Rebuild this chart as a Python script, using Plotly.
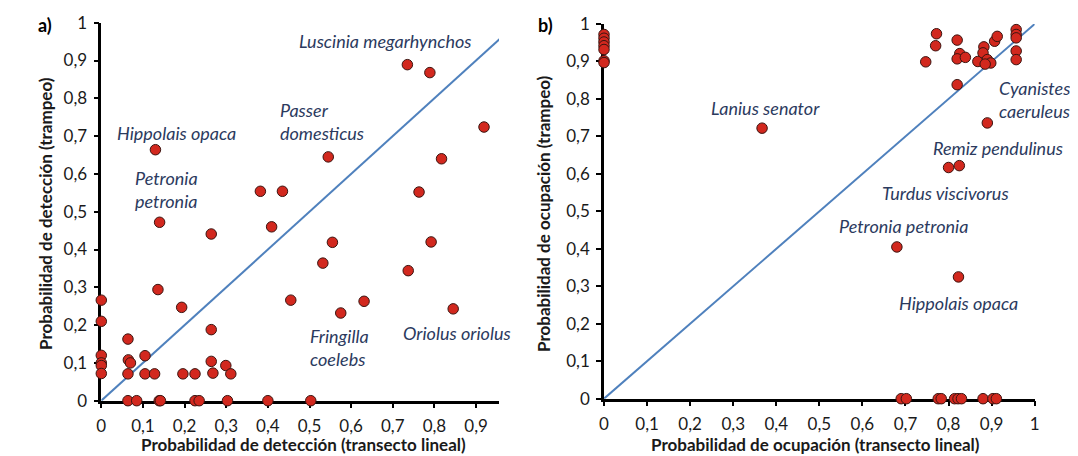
import plotly.graph_objects as go

# ---------------- data ----------------
# panel a) detection probability: transect (x) vs trapping (y)
a_x = [0, 0, 0, 0, 0, 0,
       0.064, 0.065, 0.07, 0.064, 0.105, 0.105, 0.128, 0.196, 0.225,
       0.264, 0.264, 0.268, 0.299, 0.311,
       0.064, 0.085, 0.139, 0.142, 0.225, 0.235, 0.303, 0.40, 0.503,
       0.13, 0.14, 0.264, 0.136, 0.193, 0.382, 0.435, 0.409, 0.545,
       0.555, 0.532, 0.455, 0.735, 0.789, 0.919, 0.817, 0.763, 0.792,
       0.737, 0.631, 0.575, 0.845]
a_y = [0.266, 0.21, 0.12, 0.10, 0.093, 0.072,
       0.163, 0.108, 0.10, 0.071, 0.119, 0.071, 0.071, 0.071, 0.071,
       0.188, 0.104, 0.073, 0.093, 0.071,
       0, 0, 0, 0, 0, 0, 0, 0, 0,
       0.664, 0.472, 0.441, 0.294, 0.247, 0.554, 0.554, 0.46, 0.645,
       0.419, 0.364, 0.266, 0.889, 0.868, 0.724, 0.640, 0.552, 0.42,
       0.344, 0.263, 0.232, 0.243]

# panel b) occupancy probability: transect (x) vs trapping (y)
b_x = [0, 0, 0, 0, 0, 0, 0,
       0.69, 0.702, 0.776, 0.783, 0.814, 0.822, 0.83, 0.88, 0.903, 0.911,
       0.367, 0.68, 0.823, 0.80, 0.825, 0.89,
       0.772, 0.77, 0.747, 0.82, 0.826, 0.82, 0.839, 0.868, 0.82,
       0.882, 0.88, 0.89, 0.898, 0.885, 0.907, 0.913,
       0.957, 0.957, 0.957, 0.957, 0.957]
b_y = [0.972, 0.962, 0.952, 0.942, 0.932, 0.902, 0.897,
       0, 0, 0, 0, 0, 0, 0, 0, 0, 0,
       0.722, 0.405, 0.325, 0.617, 0.622, 0.736,
       0.974, 0.942, 0.899, 0.957, 0.921, 0.907, 0.911, 0.90, 0.838,
       0.939, 0.923, 0.905, 0.896, 0.893, 0.954, 0.967,
       0.985, 0.972, 0.963, 0.928, 0.905]

# 1:1 reference lines
a_line = [0, 0.96]
b_line = [0, 1]

a_xticks = [0, 0.1, 0.2, 0.3, 0.4, 0.5, 0.6, 0.7, 0.8, 0.9]
a_xtext = ["0", "0,1", "0,2", "0,3", "0,4", "0,5", "0,6", "0,7", "0,8", "0,9"]
yticks = [0, 0.1, 0.2, 0.3, 0.4, 0.5, 0.6, 0.7, 0.8, 0.9, 1]
ytext = ["0", "0,1", "0,2", "0,3", "0,4", "0,5", "0,6", "0,7", "0,8", "0,9", "1"]

# species labels: (text, x, y, xanchor)
a_labels = [("Luscinia megarhynchos", 0.683, 0.952, "center"),
            ("Hippolais opaca", 0.18, 0.708, "center"),
            ("Passer<br>domesticus", 0.424, 0.739, "left"),
            ("Petronia<br>petronia", 0.075, 0.559, "left"),
            ("Fringilla<br>coelebs", 0.497, 0.141, "left"),
            ("Oriolus oriolus", 0.855, 0.178, "center")]
b_labels = [("Lanius senator", 0.376, 0.776, "center"),
            ("Cyanistes<br>caeruleus", 0.913, 0.798, "left"),
            ("Remiz pendulinus", 0.76, 0.67, "left"),
            ("Turdus viscivorus", 0.64, 0.55, "left"),
            ("Petronia petronia", 0.542, 0.46, "left"),
            ("Hippolais opaca", 0.68, 0.255, "left")]

# ---------------- styling ----------------
FONT = "Lato"
RED = "#d2281e"
EDGE = "#3b1410"
BLUE = "#4f81bd"
NAVY = "#2b3a5e"

fig = go.Figure()

marker = dict(size=10.5, color=RED, line=dict(color=EDGE, width=1))

fig.add_trace(go.Scatter(x=a_line, y=a_line, mode="lines",
                         line=dict(color=BLUE, width=2), xaxis="x", yaxis="y",
                         hoverinfo="skip", showlegend=False))
fig.add_trace(go.Scatter(x=a_x, y=a_y, mode="markers", marker=marker,
                         xaxis="x", yaxis="y", cliponaxis=False, showlegend=False))
fig.add_trace(go.Scatter(x=b_line, y=b_line, mode="lines",
                         line=dict(color=BLUE, width=2), xaxis="x2", yaxis="y2",
                         hoverinfo="skip", showlegend=False))
fig.add_trace(go.Scatter(x=b_x, y=b_y, mode="markers", marker=marker,
                         xaxis="x2", yaxis="y2", cliponaxis=False, showlegend=False))

W, H = 1078, 456


def px_x(p):
    return p / W


def px_y(p):
    return 1 - p / H


axis_common = dict(showgrid=False, zeroline=False, showline=True,
                   linecolor="black", linewidth=2.5, ticks="outside",
                   ticklen=5, tickwidth=2, tickcolor="black",
                   tickfont=dict(family=FONT, size=17, color="#1a1a1a"),
                   layer="below traces", fixedrange=True, automargin=False)

fig.update_layout(
    width=W, height=H,
    margin=dict(l=0, r=0, t=0, b=0),
    paper_bgcolor="white", plot_bgcolor="white",
    showlegend=False,
    xaxis=dict(domain=[px_x(93.3), px_x(491)], range=[0, 0.955],
               tickvals=a_xticks, ticktext=a_xtext, anchor="y",
               ticklabelstandoff=3, **axis_common),
    yaxis=dict(domain=[px_y(392.7), px_y(14.7)], range=[0, 1],
               tickvals=yticks, ticktext=ytext, anchor="x",
               ticklabelstandoff=3, **axis_common),
    xaxis2=dict(domain=[px_x(596), px_x(1026.7)], range=[0, 1],
                tickvals=yticks, ticktext=ytext, anchor="y2",
                ticklabelstandoff=3, **axis_common),
    yaxis2=dict(domain=[px_y(390.7), px_y(16)], range=[0, 1],
                tickvals=yticks, ticktext=ytext, anchor="x2",
                ticklabelstandoff=3, **axis_common),
)

SPFONT = dict(family=FONT, size=18, color=NAVY, style="italic")

ann = []
for txt, x, y, xa in a_labels:
    ann.append(dict(text=txt, x=x, y=y, xref="x", yref="y", xanchor=xa,
                    yanchor="middle", align=xa, showarrow=False, font=SPFONT))
for txt, x, y, xa in b_labels:
    ann.append(dict(text=txt, x=x, y=y, xref="x2", yref="y2", xanchor=xa,
                    yanchor="middle", align=xa, showarrow=False, font=SPFONT))

title_font = dict(family=FONT, size=17, color="#1a1a1a", weight="bold")


def pann(text, x, y, font, angle=0):
    return dict(text=text, x=px_x(x), y=px_y(y), xref="paper", yref="paper",
                xanchor="center", yanchor="middle", showarrow=False,
                textangle=angle, font=font)


ann += [
    pann("Probabilidad de detección (transecto lineal)", 295, 436, title_font),
    pann("Probabilidad de ocupación (transecto lineal)", 807, 436, title_font),
    pann("Probabilidad de detección (trampeo)", 38, 206, title_font, -90),
    pann("Probabilidad de ocupación (trampeo)", 536, 206, title_font, -90),
    pann("a)", 37, 17, dict(family=FONT, size=18, color="black", weight="bold")),
    pann("b)", 537, 17, dict(family=FONT, size=18, color="black", weight="bold")),
]
fig.update_layout(annotations=ann)

fig.write_html("out.html")
